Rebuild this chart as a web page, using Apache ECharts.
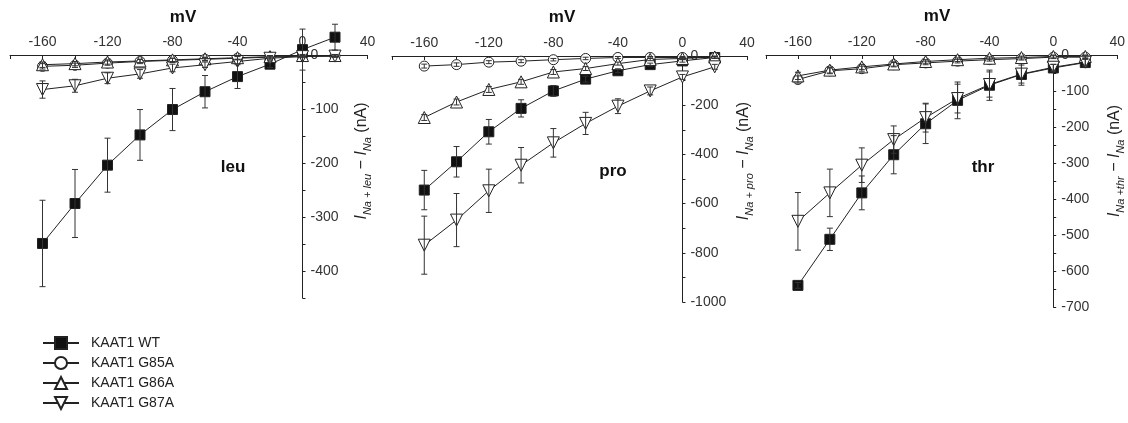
<!DOCTYPE html>
<html>
<head>
<meta charset="utf-8">
<script src="https://cdn.jsdelivr.net/npm/echarts@6/dist/echarts.min.js"></script>
<style>
  html, body { margin: 0; padding: 0; background: #fff; }
  #chart { width: 1128px; height: 423px; }
</style>
</head>
<body>
<div id="chart"></div>
<script>
// Membrane potential steps (mV)
const volts = [-160, -140, -120, -100, -80, -60, -40, -20, 0, 20];
const variantNames = ['KAAT1 WT', 'KAAT1 G85A', 'KAAT1 G86A', 'KAAT1 G87A'];

// Leucine-induced currents (nA), mean and error
const leuWT      = [-349, -275, -204, -148, -101, -68, -40, -17, 10, 33];
const leuWTErr   = [80, 63, 50, 47, 39, 30, 22, 6, 38, 24];
const leuG85A    = [-21, -19, -15, -12, -10, -8, -6, -4, -2, -2];
const leuG85AErr = [5, 4, 4, 4, 4, 3, 3, 3, 2, 2];
const leuG86A    = [-18, -16, -13, -11, -9, -7, -5, -3, -1, -1];
const leuG86AErr = [5, 4, 4, 3, 3, 3, 3, 2, 2, 2];
const leuG87A    = [-64, -57, -43, -35, -24, -18, -12, -6, -3, -2];
const leuG87AErr = [16, 12, 10, 8, 7, 5, 4, 3, 2, 2];

// Proline-induced currents (nA)
const proWT      = [-545, -430, -308, -213, -142, -94, -60, -35, -20, -6];
const proWTErr   = [80, 62, 50, 35, 22, 12, 8, 6, 5, 4];
const proG85A    = [-41, -35, -25, -21, -15, -10, -6, -6, -6, -6];
const proG85AErr = [8, 7, 6, 6, 5, 5, 4, 4, 4, 4];
const proG86A    = [-250, -187, -136, -105, -65, -51, -31, -14, -10, -4];
const proG86AErr = [12, 12, 12, 10, 10, 8, 6, 5, 4, 4];
const proG87A    = [-769, -667, -548, -444, -353, -274, -204, -142, -85, -44];
const proG87AErr = [118, 108, 88, 72, 58, 45, 30, 16, 10, 10];

// Threonine-induced currents (nA)
const thrWT      = [-640, -512, -383, -277, -191, -126, -84, -54, -36, -21];
const thrWTErr   = [8, 31, 47, 53, 55, 51, 42, 30, 10, 10];
const thrG85A    = [-68, -44, -38, -27, -22, -17, -13, -10, -6, -6];
const thrG85AErr = [10, 8, 7, 6, 5, 5, 4, 4, 4, 4];
const thrG86A    = [-58, -42, -33, -25, -18, -13, -9, -7, -4, -4];
const thrG86AErr = [10, 8, 7, 6, 5, 5, 4, 4, 4, 4];
const thrG87A    = [-462, -383, -306, -235, -174, -121, -82, -53, -34, -20];
const thrG87AErr = [80, 66, 48, 38, 40, 40, 35, 25, 8, 8];

// Axis ranges per panel
const xMin = -180, xMax = 40, xStep = 20, xLabelStep = 40;
const yMins       = [-450, -1000, -700];
const yTickSteps  = [50, 100, 50];
const yLabelSteps = [100, 200, 100];
const panelNames  = ['leu', 'pro', 'thr'];
const subscripts  = ['Na + leu', 'Na + pro', 'Na +thr'];

const panels = [
  [[leuWT, leuWTErr], [leuG85A, leuG85AErr], [leuG86A, leuG86AErr], [leuG87A, leuG87AErr]],
  [[proWT, proWTErr], [proG85A, proG85AErr], [proG86A, proG86AErr], [proG87A, proG87AErr]],
  [[thrWT, thrWTErr], [thrG85A, thrG85AErr], [thrG86A, thrG86AErr], [thrG87A, thrG87AErr]]
];

const FONT = '"Liberation Sans", Arial, Helvetica, sans-serif';
const INK = '#222';

const markerStyles = [
  { symbol: 'rect', size: 10, rotate: 0, fill: '#111' },
  { symbol: 'circle', size: 10, rotate: 0, fill: '#fff' },
  { symbol: 'triangle', size: 12, rotate: 0, fill: '#fff' },
  { symbol: 'triangle', size: 12, rotate: 180, fill: '#fff' }
];

const grids = [
  { left: 10,  top: 55, width: 357.5, height: 243 },
  { left: 392, top: 56, width: 355,   height: 246 },
  { left: 766, top: 55, width: 352,   height: 252 }
];

const xAxes = grids.map((g, p) => ({
  type: 'value', gridIndex: p, min: xMin, max: xMax, interval: xStep,
  position: 'top',
  axisLine: { onZero: false, lineStyle: { color: INK, width: 1 } },
  axisTick: { inside: true, length: 4, lineStyle: { color: INK } },
  axisLabel: {
    fontFamily: FONT, fontSize: 14, color: '#333', margin: 6,
    formatter: v => (v % xLabelStep === 0 ? String(v) : '')
  },
  splitLine: { show: false }
}));

// The current axis stands at 0 mV: shift it in from the right edge by the 0..40 mV span
const yAxes = grids.map((g, p) => ({
  type: 'value', gridIndex: p, min: yMins[p], max: 0, interval: yTickSteps[p],
  position: 'right',
  offset: -g.width * (xMax - 0) / (xMax - xMin),
  axisLine: { onZero: false, lineStyle: { color: INK, width: 1 } },
  axisTick: { inside: false, length: 3, lineStyle: { color: INK } },
  axisLabel: {
    fontFamily: FONT, fontSize: 14, color: '#333', margin: 8,
    formatter: v => (v % yLabelSteps[p] === 0 ? String(v) : '')
  },
  splitLine: { show: false }
}));

function errorBarItem(params, api) {
  const x = api.value(0), y = api.value(1), e = api.value(2);
  const top = api.coord([x, y + e]);
  const bot = api.coord([x, y - e]);
  const hw = 3;
  const style = { stroke: '#333', lineWidth: 1 };
  return {
    type: 'group',
    children: [
      { type: 'line', shape: { x1: top[0], y1: top[1], x2: bot[0], y2: bot[1] }, style },
      { type: 'line', shape: { x1: top[0] - hw, y1: top[1], x2: top[0] + hw, y2: top[1] }, style },
      { type: 'line', shape: { x1: bot[0] - hw, y1: bot[1], x2: bot[0] + hw, y2: bot[1] }, style }
    ]
  };
}

const series = [];
panels.forEach((panel, p) => {
  panel.forEach(([vals, errs], i) => {
    const m = markerStyles[i];
    series.push({
      type: 'line', name: variantNames[i],
      xAxisIndex: p, yAxisIndex: p,
      data: volts.map((v, k) => [v, vals[k]]),
      symbol: m.symbol, symbolSize: m.size, symbolRotate: m.rotate,
      showAllSymbol: true, clip: false, z: 2 + i * 0.1,
      lineStyle: { color: INK, width: 1 },
      itemStyle: { color: m.fill, borderColor: '#222', borderWidth: 1 },
      emphasis: { disabled: true },
      animation: false
    });
    series.push({
      type: 'custom', name: variantNames[i] + ' error',
      xAxisIndex: p, yAxisIndex: p,
      data: volts.map((v, k) => [v, vals[k], errs[k]]),
      renderItem: errorBarItem, clip: false, z: 4,
      silent: true, animation: false
    });
  });
});

// Axis titles and panel labels
const graphics = [];
const mvPos = [[183, 17], [562, 17], [937, 16]];
const labelPos = [[233, 167], [613, 171], [983, 167]];
const titleX = [363, 745, 1116];
panelNames.forEach((name, p) => {
  graphics.push({
    type: 'text', x: mvPos[p][0], y: mvPos[p][1],
    style: { text: 'mV', font: 'bold 17px ' + FONT, fill: '#111', align: 'center', verticalAlign: 'middle' }
  });
  graphics.push({
    type: 'text', x: labelPos[p][0], y: labelPos[p][1],
    style: { text: name, font: 'bold 17px ' + FONT, fill: '#111', align: 'center', verticalAlign: 'middle' }
  });
  graphics.push({
    type: 'text', x: titleX[p], y: 161, rotation: Math.PI / 2,
    style: {
      text: '{i|I}{s|' + subscripts[p] + '}{t| − }{i|I}{s|Na}{t| (nA)}',
      align: 'center', verticalAlign: 'middle', fill: INK,
      rich: {
        i: { fontFamily: FONT, fontSize: 16, fontStyle: 'italic', fill: INK, lineHeight: 18, verticalAlign: 'top' },
        s: { fontFamily: FONT, fontSize: 11, fontStyle: 'italic', fill: INK, lineHeight: 12, padding: [8, 0, 0, 0], verticalAlign: 'top' },
        t: { fontFamily: FONT, fontSize: 16, fill: INK, lineHeight: 18, verticalAlign: 'top' }
      }
    }
  });
});

const chart = echarts.init(document.getElementById('chart'), null, { renderer: 'canvas' });
chart.setOption({
  animation: false,
  backgroundColor: '#fff',
  grid: grids,
  xAxis: xAxes,
  yAxis: yAxes,
  legend: {
    data: variantNames,
    orient: 'vertical', left: 42, top: 336, padding: 0,
    itemWidth: 36, itemHeight: 15, itemGap: 6,
    textStyle: { fontFamily: FONT, fontSize: 14, color: '#222', padding: [0, 0, 0, 7] },
    selectedMode: false
  },
  graphic: graphics,
  series: series
});
</script>
</body>
</html>
